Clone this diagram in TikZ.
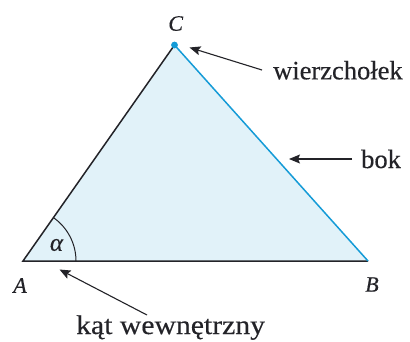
\documentclass[tikz,border=0pt]{standalone}
\usepackage{fontspec}
\setmainfont{Liberation Serif}
\newfontfamily\txt[FakeBold=0.35]{Liberation Serif}
\newfontfamily\txtwide[FakeBold=0.35,FakeStretch=1.1]{Liberation Serif}
\usetikzlibrary{arrows.meta}
\definecolor{fillblue}{RGB}{225,242,249}
\definecolor{sideblue}{RGB}{20,155,215}
\definecolor{ink}{RGB}{35,35,40}
\tikzset{
  edge/.style={draw=ink, line width=1.5pt},
  pointer/.style={draw=ink, line width=1.1pt, -{Stealth[length=11pt,width=9pt,inset=2pt]}},
  vlabel/.style={inner sep=0pt, font=\txt\fontsize{22}{24}\selectfont\itshape, text=ink},
  tlabel/.style={inner sep=0pt, anchor=base west, text=ink},
}
\begin{document}
\begin{tikzpicture}[x=1pt,y=-1pt]
\useasboundingbox (0,0) rectangle (410,341);
\fill[white] (0,0) rectangle (410,341);
\coordinate (A) at (23,261);
\coordinate (B) at (368,261);
\coordinate (C) at (174.5,45);
\fill[fillblue] (A) -- (B) -- (C) -- cycle;
\draw[edge] (C) -- (A) -- (B);
\draw[draw=sideblue, line width=1.5pt] (C) -- (B);
\draw[draw=ink, line width=1pt] ([shift={(53,0)}]A) arc[start angle=0, end angle=-54.9, radius=53];
\fill[sideblue] (C) circle (3.4);
\node[vlabel] (lA) at (20,285.5) {A};
\node[vlabel] (lB) at (372,284.5) {B};
\node[vlabel] (lC) at (175.7,23.5) {C};
\node[vlabel, font=\txt\fontsize{25}{27}\selectfont\itshape] (alpha) at (56.5,245) {α};
\node[tlabel, font=\txt\fontsize{26.5}{28}\selectfont] (wt) at (273,79.3) {wierzchołek};
\node[tlabel, font=\txt\fontsize{26.5}{28}\selectfont] (bt) at (361,168) {bok};
\node[tlabel, font=\txtwide\fontsize{27}{29}\selectfont] (kt) at (76,334) {kąt wewnętrzny};
\coordinate (wtail) at (262,70);
\coordinate (wtip) at (189.5,47.5);
\coordinate (btail) at (352,159);
\coordinate (btip) at (289,159);
\coordinate (ktail) at (147,315);
\coordinate (ktip) at (59.5,269.5);
\draw[pointer] (wtail) -- (wtip);
\draw[pointer] (btail) -- (btip);
\draw[pointer] (ktail) -- (ktip);
\end{tikzpicture}
\end{document}
